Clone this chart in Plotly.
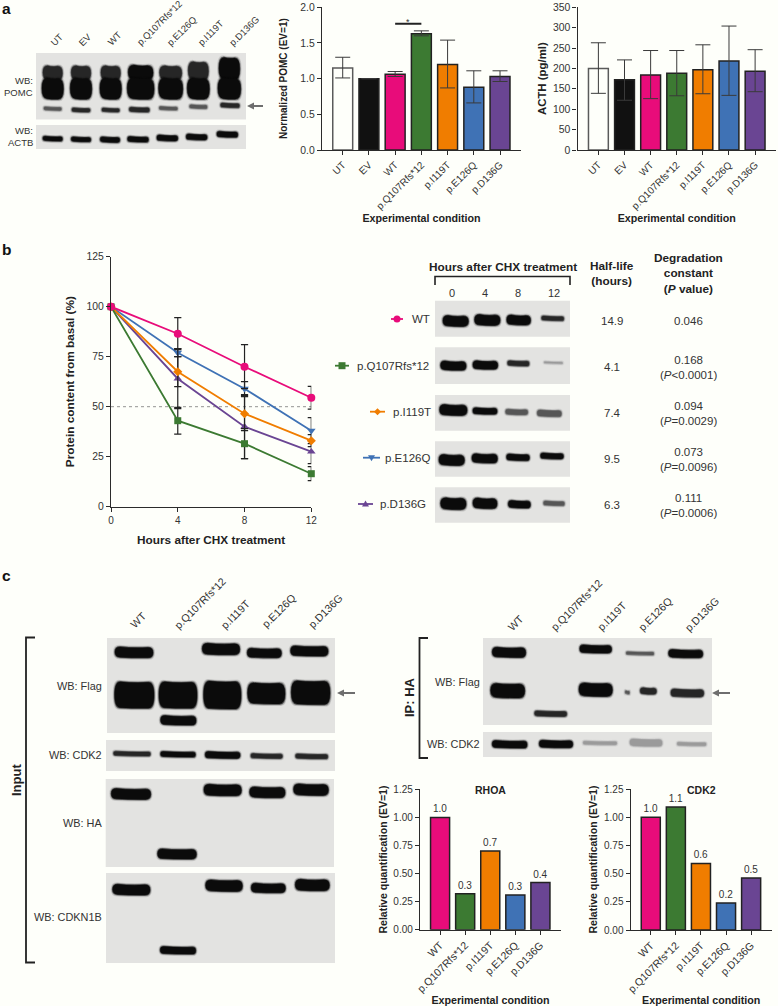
import plotly.graph_objects as go

# ---------- data ----------
conditions_a = ["UT", "EV", "WT", "p.Q107Rfs*12", "p.I119T", "p.E126Q", "p.D136G"]
colors_a = ["#fefffa", "#111111", "#e80c7a", "#3c7a32", "#f07d00", "#3f72b5", "#6a4593"]
pomc_values = [1.15, 1.00, 1.06, 1.63, 1.20, 0.88, 1.03]
pomc_err_up = [0.15, 0.0, 0.04, 0.04, 0.34, 0.23, 0.08]
pomc_err_dn = [0.14, 0.0, 0.03, 0.03, 0.33, 0.22, 0.07]
acth_values = [200, 172, 184, 188, 197, 218, 193]
acth_err_up = [63, 49, 60, 56, 61, 86, 53]
acth_err_dn = [61, 50, 58, 55, 59, 84, 50]

hours = [0, 4, 8, 12]
wt_content = [100, 86.5, 70, 54.5]
wt_err = [0, 8, 11, 5.7]
q107_content = [100, 43, 31.5, 16.5]
q107_err = [0, 6.7, 7.5, 3.5]
i119_content = [100, 67.5, 46.5, 33]
i119_err = [0, 7.5, 8.5, 3]
e126_content = [100, 77, 59, 38]
e126_err = [0, 2, 3.5, 6.5]
d136_content = [100, 64, 40, 27.5]
d136_err = [0, 15, 16, 6]

conditions_c = ["WT", "p.Q107Rfs*12", "p.I119T", "p.E126Q", "p.D136G"]
colors_c = ["#e80c7a", "#3c7a32", "#f07d00", "#3f72b5", "#6a4593"]
rhoa_values = [1.0, 0.32, 0.70, 0.31, 0.42]
rhoa_labels = ["1.0", "0.3", "0.7", "0.3", "0.4"]
cdk2_values = [1.0, 1.09, 0.59, 0.24, 0.46]
cdk2_labels = ["1.0", "1.1", "0.6", "0.2", "0.5"]

half_life = ["14.9", "4.1", "7.4", "9.5", "6.3"]
degradation = ["0.046", "0.168<br>(<i>P</i>&lt;0.0001)", "0.094<br>(<i>P</i>=0.0029)",
               "0.073<br>(<i>P</i>=0.0096)", "0.111<br>(<i>P</i>=0.0006)"]

# ---------- helpers ----------
W, H = 778, 1006
BG = "#fefffa"
INK = "#333333"
FONT = "Liberation Sans"
shapes, notes = [], []


def px(x):
    return x / W


def py(y):
    return 1 - y / H


def text(x, y, s, size=10, bold=False, anchor="center", vanchor="middle", angle=0, color=INK):
    if bold:
        s = "<b>" + s + "</b>"
    notes.append(dict(x=px(x), y=py(y), xref="paper", yref="paper", text=s, showarrow=False,
                      xanchor=anchor, yanchor=vanchor, textangle=angle, borderpad=0, borderwidth=0,
                      font=dict(family=FONT, size=size, color=color)))


def rect(x0, y0, x1, y1, color="#e3e3e1"):
    shapes.append(dict(type="rect", xref="paper", yref="paper", x0=px(x0), x1=px(x1),
                       y0=py(y0), y1=py(y1), fillcolor=color, line=dict(width=0), layer="below"))


def path(points, color=INK, width=1.6):
    d = "M " + " L ".join(f"{px(a):.5f},{py(b):.5f}" for a, b in points)
    shapes.append(dict(type="path", xref="paper", yref="paper", path=d,
                       line=dict(color=color, width=width)))


def blob(cx, cy, w, h, color, opacity, tilt=0.0):
    r = min(h / 2, w / 4, 6)
    x0, x1, y0, y1 = cx - w / 2, cx + w / 2, cy - h / 2, cy + h / 2
    sag = min(h * 0.12, 1.2)
    P = lambda a, b: f"{px(a):.5f},{py(b):.5f}"
    t = tilt / 2
    d = (f"M {P(x0 + r, y0 + t)} Q {P(cx, y0 + sag)} {P(x1 - r, y0 - t)} "
         f"Q {P(x1, y0 - t)} {P(x1, cy - t)} Q {P(x1, y1 - t)} {P(x1 - r, y1 - t)} "
         f"Q {P(cx, y1 + sag * 0.4)} {P(x0 + r, y1 + t)} "
         f"Q {P(x0, y1 + t)} {P(x0, cy + t)} Q {P(x0, y0 + t)} {P(x0 + r, y0 + t)} Z")
    shapes.append(dict(type="path", xref="paper", yref="paper", path=d, fillcolor=color,
                       opacity=opacity, line=dict(width=0)))


TONES = {"k": "#0b0b0b", "d": "#262626", "m": "#565656", "f": "#9a9a9a"}


def band(cx, cy, w, h, tone="k", tilt=-0.6):
    c = TONES[tone]
    for grow, op in [(3.4, 0.10), (2.2, 0.16), (1.2, 0.30), (0.4, 0.55)]:
        blob(cx, cy, w + grow, h + grow, c, op, tilt)
    blob(cx, cy, max(w - 0.6, 1), max(h - 0.8, 1), c, 1, tilt)


def bands(ox, oy, items):
    for it in items:
        cx, cy, w, h = it[:4]
        band(ox + cx / 3, oy + cy / 3, w / 3, h / 3, it[4] if len(it) > 4 else "k")


def arrow(x0, x1, y):
    path([(x0 + 6, y), (x1, y)], "#6e6e6e", 2)
    d = f"M {px(x0)},{py(y)} L {px(x0 + 7)},{py(y - 3.4)} L {px(x0 + 7)},{py(y + 3.4)} Z"
    shapes.append(dict(type="path", xref="paper", yref="paper", path=d, fillcolor="#6e6e6e",
                       line=dict(width=0)))


def axes(n, x0, x1, ytop, ybot, xrange, yrange, ytitle, ysize, ystand, ydtick, yfmt,
         xtitle=None, tickvals=None, xsize=10, xstand=3, ytick=10.4):
    common = dict(showline=True, linecolor="#2b2b2b", linewidth=1.4, ticks="outside", ticklen=4,
                  tickwidth=1.2, tickcolor="#2b2b2b", showgrid=False, zeroline=False)
    xa = dict(domain=[px(x0), px(x1)], range=xrange, anchor=f"y{n}", tickangle=-45 if tickvals else 0,
              tickfont=dict(family=FONT, size=xsize, color=INK), **common)
    if tickvals:
        xa.update(type="category", tickmode="array", tickvals=tickvals, ticktext=tickvals)
    else:
        xa.update(tickmode="array", tickvals=hours)
    xa["title"] = dict(text="<b>" + xtitle + "</b>", standoff=xstand,
                       font=dict(family=FONT, size=11.8 if not tickvals else 10.7, color="#222222"))
    ya = dict(domain=[py(ybot), py(ytop)], range=yrange, anchor=f"x{n}", dtick=ydtick, tick0=0,
              tickformat=yfmt, tickfont=dict(family=FONT, size=ytick, color=INK),
              title=dict(text="<b>" + ytitle + "</b>", standoff=ystand,
                         font=dict(family=FONT, size=ysize, color="#222222")), **common)
    return {f"xaxis{n}": xa, f"yaxis{n}": ya}


def bar_trace(n, cats, vals, cols, up=None, dn=None, labels=None):
    outline = ["#5a5a5a" if c == BG else "#222222" for c in cols]
    tr = dict(x=cats, y=vals, xaxis=f"x{n}", yaxis=f"y{n}", width=0.76, showlegend=False, cliponaxis=False,
              marker=dict(color=cols, line=dict(color=outline, width=1.5)))
    if up:
        tr["error_y"] = dict(type="data", array=up, arrayminus=dn, symmetric=False, thickness=1,
                             width=7.5, color="#3a3a3a")
    if labels:
        tr.update(text=labels, textposition="outside", textangle=0, constraintext="none",
                  textfont=dict(family=FONT, size=10, color=INK))
    return go.Bar(**tr)


fig = go.Figure()
layout_axes = {}

# ---------- panel a charts ----------
layout_axes.update(axes(1, 322, 521, 7.3, 150, [-0.79, 6.8], [0, 2], "Normalized POMC (EV=1)", 10, 10, 0.5, ".1f",
                        "Experimental condition", conditions_a))
fig.add_trace(bar_trace(1, conditions_a, pomc_values, colors_a, pomc_err_up, pomc_err_dn))
layout_axes.update(axes(2, 577.5, 776, 7.3, 150, [-0.8, 6.8], [0, 350], "ACTH (pg/ml)", 11.4, 3, 50, "d",
                        "Experimental condition", conditions_a))
fig.add_trace(bar_trace(2, conditions_a, acth_values, colors_a, acth_err_up, acth_err_dn))
shapes.append(dict(type="line", xref="x", yref="y", x0="WT", x1="p.Q107Rfs*12", y0=1.77, y1=1.77,
                   line=dict(color="#222222", width=2)))
notes.append(dict(x=2.5, y=1.8, xref="x", yref="y", text="*", showarrow=False, yanchor="middle",
                  font=dict(family=FONT, size=9, color=INK)))

# ---------- panel b chart ----------
layout_axes.update(axes(3, 111, 311.3, 256.7, 506.7, [0, 12], [0, 125], "Protein content from basal (%)", 11.8, 9,
                        25, "d", "Hours after CHX treatment", xstand=10))
shapes.append(dict(type="line", xref="x3", yref="y3", x0=0, x1=12, y0=50, y1=50, layer="below",
                   line=dict(color="#777777", width=0.8, dash="dot")))
series_b = [
    ("p.E126Q", e126_content, e126_err, "#3f72b5", "triangle-down", 7.5),
    ("p.D136G", d136_content, d136_err, "#6a4593", "triangle-up", 7.5),
    ("p.I119T", i119_content, i119_err, "#f07d00", "diamond", 7),
    ("p.Q107Rfs*12", q107_content, q107_err, "#3c7a32", "square", 7),
    ("WT", wt_content, wt_err, "#e80c7a", "circle", 8),
]
for name, vals, err, col, sym, size in series_b:
    fig.add_trace(go.Scatter(x=hours, y=vals, name=name, mode="lines+markers", xaxis="x3", yaxis="y3",
                             showlegend=False, cliponaxis=False, line=dict(color=col, width=1.8),
                             marker=dict(color=col, symbol=sym, size=size),
                             error_y=dict(type="data", array=err, thickness=1.2, width=3.6, color="#222222")))

# ---------- panel c charts ----------
layout_axes.update(axes(4, 420, 561, 789.3, 929.7, [-0.8, 4.82], [0, 1.25], "Relative quantification (EV=1)", 10.5, 3,
                        0.25, ".2f", "Experimental condition", conditions_c, xsize=10.6, xstand=3, ytick=10))
fig.add_trace(bar_trace(4, conditions_c, rhoa_values, colors_c, labels=rhoa_labels))
layout_axes.update(axes(5, 630.7, 771.7, 789, 930, [-0.8, 4.82], [0, 1.25], "Relative quantification (EV=1)", 10.5, 4,
                        0.25, ".2f", "Experimental condition", conditions_c, xsize=10.6, xstand=3, ytick=10))
fig.add_trace(bar_trace(5, conditions_c, cdk2_values, colors_c, labels=cdk2_labels))
text(490, 790, "RHOA", 10.5, True, color="#222222")
text(701, 790, "CDK2", 10.5, True, color="#222222")

# ---------- panel letters ----------
text(2, 9, "a", 15.5, True, "left", color="#111111")
text(2, 249, "b", 15.5, True, "left", color="#111111")
text(2, 575, "c", 15.5, True, "left", color="#111111")

# ---------- panel a blots ----------
rect(36, 53, 246, 119.5)
rect(36, 125, 246, 149)
for cx, w, top, tone in [(158, 62, 197, "d"), (243, 62, 197, "d"), (332, 62, 197, "d"), (422, 78, 195, "k"),
                         (512, 70, 197, "d"), (595, 64, 185, "d"), (688, 66, 172, "k")]:
    bands(0, 0, [(cx, (top + 240) / 2, w - 2, 240 - top, tone),
                 (cx, 266, w + 4, 64, "k")])
bands(0, 0, [(158, 326, 54, 11, "m"), (243, 330, 56, 13, "d"), (332, 330, 54, 12, "d"), (418, 329, 62, 15, "d"),
             (505, 325, 56, 11, "m"), (595, 320, 54, 12, "m"), (690, 316, 58, 14, "d"),
             (158, 416, 60, 15), (243, 418, 60, 15), (330, 419, 60, 17), (414, 418, 64, 17),
             (502, 414, 64, 18), (590, 411, 64, 18), (682, 403, 64, 18)])
for s, left in zip(["UT", "EV", "WT", "p.Q107Rfs*12", "p.E126Q", "p.I119T", "p.D136G"],
                   [48, 76.5, 105, 135, 165, 196, 227]):
    text(left, 47.5, s, 9.4, anchor="left", vanchor="bottom", angle=-45)
text(32.5, 81, "WB:", 9.5, anchor="right")
text(32.5, 92, "POMC", 9.5, anchor="right")
text(32.5, 131, "WB:", 9.5, anchor="right")
text(32.5, 143, "ACTB", 9.5, anchor="right")
arrow(247, 263, 106)

# ---------- panel b blots and table ----------
for y0, y1 in [(300.7, 336.7), (347.3, 384), (395, 430.7), (441.3, 476.7), (487.3, 522.7)]:
    rect(435, y0, 570, y1)
bands(400, 240, [
    (167, 243, 78, 33), (262, 240, 78, 33), (356, 240, 73, 30), (458, 235, 68, 14, "d"),
    (160, 377, 78, 28), (256, 375, 76, 26), (355, 370, 66, 16, "d"), (460, 368, 56, 6, "f"),
    (160, 510, 84, 33), (255, 513, 74, 20), (350, 516, 68, 17, "m"), (448, 520, 74, 20, "m"),
    (155, 660, 78, 33), (254, 655, 78, 28), (354, 652, 70, 20), (456, 648, 70, 18),
    (160, 791, 78, 36), (255, 790, 74, 32), (358, 793, 68, 23), (462, 790, 64, 14, "m"),
])
text(503, 267, "Hours after CHX treatment", 11.8, True, color="#222222")
path([(435, 285), (435, 276.5), (570, 276.5), (570, 285)], "#222222", 1.6)
for s, x in zip(["0", "4", "8", "12"], [452, 484.7, 517.7, 554]):
    text(x, 293, s, 11)
text(612, 273, "Half-life<br>(hours)", 11.8, True, color="#222222")
text(688, 273, "Degradation<br>constant<br>(<i>P</i> value)", 11.8, True, color="#222222")
for s, y in zip(half_life, [321, 367, 413, 459, 505]):
    text(612, y, s, 11.5)
for s, y in zip(degradation, [321, 367, 413, 459, 505]):
    text(688, y, s, 11.5)

# ---------- panel b legend keys ----------
key_rows = [("WT", 391, 403, 412, 319, "#e80c7a", "circle"),
            ("p.Q107Rfs*12", 335, 349, 357, 365.7, "#3c7a32", "square"),
            ("p.I119T", 370, 385, 392.7, 411.7, "#f07d00", "diamond"),
            ("p.E126Q", 363, 380, 385, 457.7, "#3f72b5", "down"),
            ("p.D136G", 358, 373, 380, 504, "#6a4593", "up")]
for label, x0, x1, tx, y, col, sym in key_rows:
    path([(x0, y), (x1, y)], col, 1.8)
    c = (x0 + x1) / 2
    r = 3.5
    if sym in ("circle", "square"):
        shapes.append(dict(type="circle" if sym == "circle" else "rect", xref="paper", yref="paper",
                           x0=px(c - r), x1=px(c + r), y0=py(y + r), y1=py(y - r), fillcolor=col,
                           line=dict(width=0)))
    else:
        pts = {"diamond": [(c - r, y), (c, y - r), (c + r, y), (c, y + r)],
               "down": [(c - r, y - r + 1), (c + r, y - r + 1), (c, y + r)],
               "up": [(c - r, y + r - 1), (c + r, y + r - 1), (c, y - r)]}[sym]
        d = "M " + " L ".join(f"{px(a):.5f},{py(b):.5f}" for a, b in pts) + " Z"
        shapes.append(dict(type="path", xref="paper", yref="paper", path=d, fillcolor=col, line=dict(width=0)))
    text(tx, y, label, 11.5, anchor="left")

# ---------- panel c input blots ----------
rect(107, 638, 335, 733)
rect(106, 740, 335, 771)
rect(105.7, 779, 334, 867)
rect(106, 873, 335, 963)
bands(0, 560, [
    (402, 277, 116, 33), (663, 267, 114, 35), (793, 279, 104, 29), (928, 273, 114, 31),
    (403, 405, 120, 80), (534, 405, 116, 80), (667, 405, 114, 84), (799, 400, 114, 64), (932, 398, 118, 72),
    (535, 481, 108, 29),
    (396, 581, 112, 14, "d"), (534, 583, 106, 17), (668, 585, 106, 21), (800, 588, 96, 15, "d"), (935, 589, 98, 15, "d"),
    (393, 702, 120, 33), (531, 882, 118, 31), (668, 690, 114, 35), (802, 697, 108, 33), (933, 689, 106, 35),
    (394, 989, 114, 33), (534, 1171, 108, 23), (672, 977, 112, 35), (805, 984, 104, 29), (937, 975, 104, 35),
])
for s, left in zip(conditions_c, [128, 172, 218.5, 259.5, 306]):
    text(left, 630.5, s, 10.7, anchor="left", vanchor="bottom", angle=-45)
text(102, 686, "WB: Flag", 10.9, anchor="right")
text(102, 755, "WB: CDK2", 10.9, anchor="right")
text(102, 823, "WB: HA", 10.9, anchor="right")
text(102, 917, "WB: CDKN1B", 10.9, anchor="right")
path([(35, 637.5), (26, 637.5), (26, 962.5), (35, 962.5)], "#222222", 1.8)
text(16, 780, "Input", 13, True, angle=-90, color="#222222")
arrow(337, 355, 693)

# ---------- panel c IP blots ----------
rect(483, 638, 712, 725)
rect(483, 732, 712, 757)
bands(400, 560, [
    (327, 277, 102, 31), (587, 267, 97, 25), (720, 280, 84, 10, "m"), (857, 281, 104, 25),
    (323, 392, 104, 44), (587, 389, 102, 41), (682, 397, 14, 10, "m"), (745, 393, 50, 20, "d"),
    (862, 399, 100, 24, "d"), (452, 461, 98, 17, "d"),
    (329, 553, 106, 23), (468, 552, 102, 23), (600, 549, 102, 11, "f"), (738, 548, 98, 22, "f"), (875, 552, 88, 11, "f"),
])
for s, left in zip(conditions_c, [505, 548.5, 595, 636, 682.5]):
    text(left, 633, s, 10.7, anchor="left", vanchor="bottom", angle=-45)
text(480, 682, "WB: Flag", 10.9, anchor="right")
text(480, 744, "WB: CDK2", 10.9, anchor="right")
path([(428, 638), (419.5, 638), (419.5, 758), (428, 758)], "#222222", 1.8)
text(409, 697, "IP: HA", 13, True, angle=-90, color="#222222")
arrow(712, 730, 693)

fig.update_layout(width=W, height=H, autosize=False,
                  margin=dict(l=0, r=0, t=0, b=0, pad=0, autoexpand=False),
                  paper_bgcolor=BG, plot_bgcolor=BG, showlegend=False, bargap=0.24,
                  font=dict(family=FONT, color=INK), shapes=shapes, annotations=notes, **layout_axes)
fig.write_html("out.html", config={"displayModeBar": False},
               post_script="document.documentElement.style.margin='0';document.body.style.margin='0';"
                           "document.body.style.background='" + BG + "';")
